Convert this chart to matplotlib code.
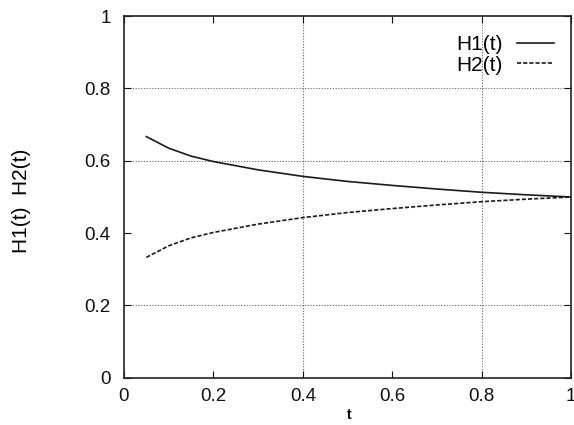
import matplotlib
matplotlib.use("Agg")
import matplotlib.pyplot as plt

t = [0.05, 0.1, 0.15, 0.2, 0.3, 0.4, 0.5, 0.6, 0.7, 0.8, 0.9, 1.0]
h1 = [0.667, 0.635, 0.613, 0.598, 0.575, 0.557, 0.543, 0.532, 0.522, 0.513, 0.506, 0.500]
h2 = [0.333, 0.365, 0.387, 0.402, 0.425, 0.443, 0.457, 0.468, 0.478, 0.487, 0.494, 0.500]
xticks = [0, 0.2, 0.4, 0.6, 0.8, 1]
xticklabels = ["0", "0.2", "0.4", "0.6", "0.8", "1"]
yticks = [0, 0.2, 0.4, 0.6, 0.8, 1]
yticklabels = ["0", "0.2", "0.4", "0.6", "0.8", "1"]
vgrid = [0.4, 0.8]
hgrid = [0.2, 0.6, 0.8]

plt.rcParams['font.family'] = ['Liberation Sans', 'DejaVu Sans']

fig = plt.figure(figsize=(5.74, 4.25), dpi=100)
ax = fig.add_axes([0.216, 0.111, 0.779, 0.851])

for g in vgrid:
    ax.axvline(g, color='#666666', lw=0.8, ls=(0, (1, 1.5)), zorder=1)
for g in hgrid:
    ax.axhline(g, color='#666666', lw=0.8, ls=(0, (1, 1.5)), zorder=1)

ax.plot(t, h1, color='#1a1a1a', lw=1.2, ls='-', label='H1(t)', zorder=3)
ax.plot(t, h2, color='#1a1a1a', lw=1.2, ls=(0, (2.5, 1.2)), label='H2(t)', zorder=3)

ax.set_xlim(0, 1)
ax.set_ylim(0, 1)
ax.set_xticks(xticks)
ax.set_xticklabels(xticklabels)
ax.set_yticks(yticks)
ax.set_yticklabels(yticklabels)
ax.tick_params(direction='in', top=True, right=True, length=5, width=0.8,
               labelsize=13.5, colors='#111111')
ax.tick_params(axis='y', pad=9.5)
ax.tick_params(axis='x', pad=7.5)
for s in ax.spines.values():
    s.set_linewidth(1.2)
    s.set_color('#222222')

ax.set_xlabel('t', fontsize=10, fontweight='bold')
ax.xaxis.set_label_coords((349 - 124) / 447, (378 - 408) / 362)
ax.set_ylabel('H1(t)  H2(t)', fontsize=15)
ax.yaxis.set_label_coords((31 - 124) / 447, 0.49)

leg = ax.legend(loc='upper right', frameon=False, fontsize=15, handlelength=1.8,
                markerfirst=False, borderpad=0, borderaxespad=0, labelspacing=0.08,
                handletextpad=0.65,
                bbox_to_anchor=(554 / 574, 1 - 35 / 425), bbox_transform=fig.transFigure)

fig.savefig('out.png', dpi=100)
